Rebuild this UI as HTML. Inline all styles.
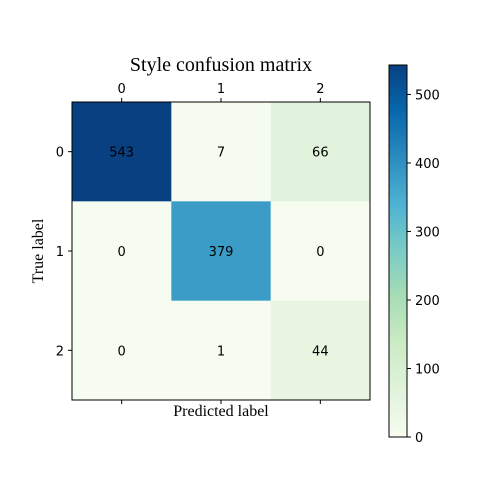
<!DOCTYPE html>
<html><head><meta charset="utf-8"><style>
body{margin:0;background:#fff}
svg text{font-family:"DejaVu Sans",sans-serif;font-size:13px}
.serif{font-family:"Liberation Serif",serif}
</style></head><body>
<svg id="chart" width="480" height="480" xmlns="http://www.w3.org/2000/svg">
<text class="serif" x="221" y="71" text-anchor="middle" style="font-size:20px">Style confusion matrix</text>
<text class="serif" x="221" y="416" text-anchor="middle" style="font-size:16px">Predicted label</text>
<text class="serif" x="43" y="251" text-anchor="middle" style="font-size:16px" transform="rotate(-90 43 251)">True label</text>
<defs><linearGradient id="gnbu" x1="0" y1="1" x2="0" y2="0"></linearGradient></defs>
<g id="cells"></g>
<g id="cbar"></g>
</svg>
<script>
const categories=["0","1","2"];
const row0=[543,7,66];
const row1=[0,379,0];
const row2=[0,1,44];
const cbarTicks=[0,100,200,300,400,500];
const vmax=543;
const NS="http://www.w3.org/2000/svg";
const stops=["#f7fcf0","#e0f3db","#ccebc5","#a8ddb5","#7bccc4","#4eb3d3","#2b8cbe","#0868ac","#084081"];
function hex(c){return [1,3,5].map(i=>parseInt(c.substr(i,2),16));}
function cmap(t){t=Math.max(0,Math.min(1,t));const p=t*(stops.length-1),i=Math.min(Math.floor(p),stops.length-2),f=p-i;const a=hex(stops[i]),b=hex(stops[i+1]);return "rgb("+a.map((v,k)=>Math.round(v+(b[k]-v)*f)).join(",")+")";}
function mk(tag,at,parent){const e=document.createElementNS(NS,tag);for(const k in at)e.setAttribute(k,at[k]);parent.appendChild(e);return e;}
const svg=document.getElementById("chart");
const X0=72,Y0=102,S=298/3;
const xs=i=>X0+i*S, ys=i=>Y0+i*S;
const rows=[row0,row1,row2];
const cells=document.getElementById("cells");
rows.forEach((r,i)=>r.forEach((v,j)=>{
  const rc=mk("rect",{x:xs(j),y:ys(i),width:S+0.5,height:S+0.5,fill:cmap(v/vmax)},cells);
  
  
  const t=mk("text",{x:xs(j)+S/2,y:ys(i)+S/2+5,"text-anchor":"middle"},cells);
  t.textContent=v;
  
  
}));
mk("rect",{x:X0,y:Y0,width:298,height:298,fill:"none",stroke:"#000","stroke-width":1},cells);
categories.forEach((c,i)=>{
  const cx=xs(i)+S/2, cy=ys(i)+S/2;
  mk("line",{x1:cx,y1:Y0,x2:cx,y2:Y0-4,stroke:"#000"},cells);
  mk("line",{x1:cx,y1:Y0+298,x2:cx,y2:Y0+302,stroke:"#000"},cells);
  mk("line",{x1:X0,y1:cy,x2:X0-4,y2:cy,stroke:"#000"},cells);
  const tx=mk("text",{x:cx,y:Y0-9,"text-anchor":"middle"},cells);tx.textContent=c;
  
  
  const ty=mk("text",{x:X0-8,y:cy+5,"text-anchor":"end"},cells);ty.textContent=c;
  
  
});
const grad=document.getElementById("gnbu");
stops.forEach((s,i)=>mk("stop",{offset:i/(stops.length-1),"stop-color":s},grad));
const cb=document.getElementById("cbar");
const CBX=389,CBY=65,CBW=18,CBH=372;
const cy=v=>CBY+CBH-v/vmax*CBH;
mk("rect",{x:CBX,y:CBY,width:CBW,height:CBH,fill:"url(#gnbu)",stroke:"#000","stroke-width":1},cb);
cbarTicks.forEach(v=>{
  mk("line",{x1:CBX+CBW,y1:cy(v),x2:CBX+CBW+4,y2:cy(v),stroke:"#000"},cb);
  const t=mk("text",{x:CBX+CBW+8,y:cy(v)+5},cb);t.textContent=v;
  
  
});
</script>
</body></html>
